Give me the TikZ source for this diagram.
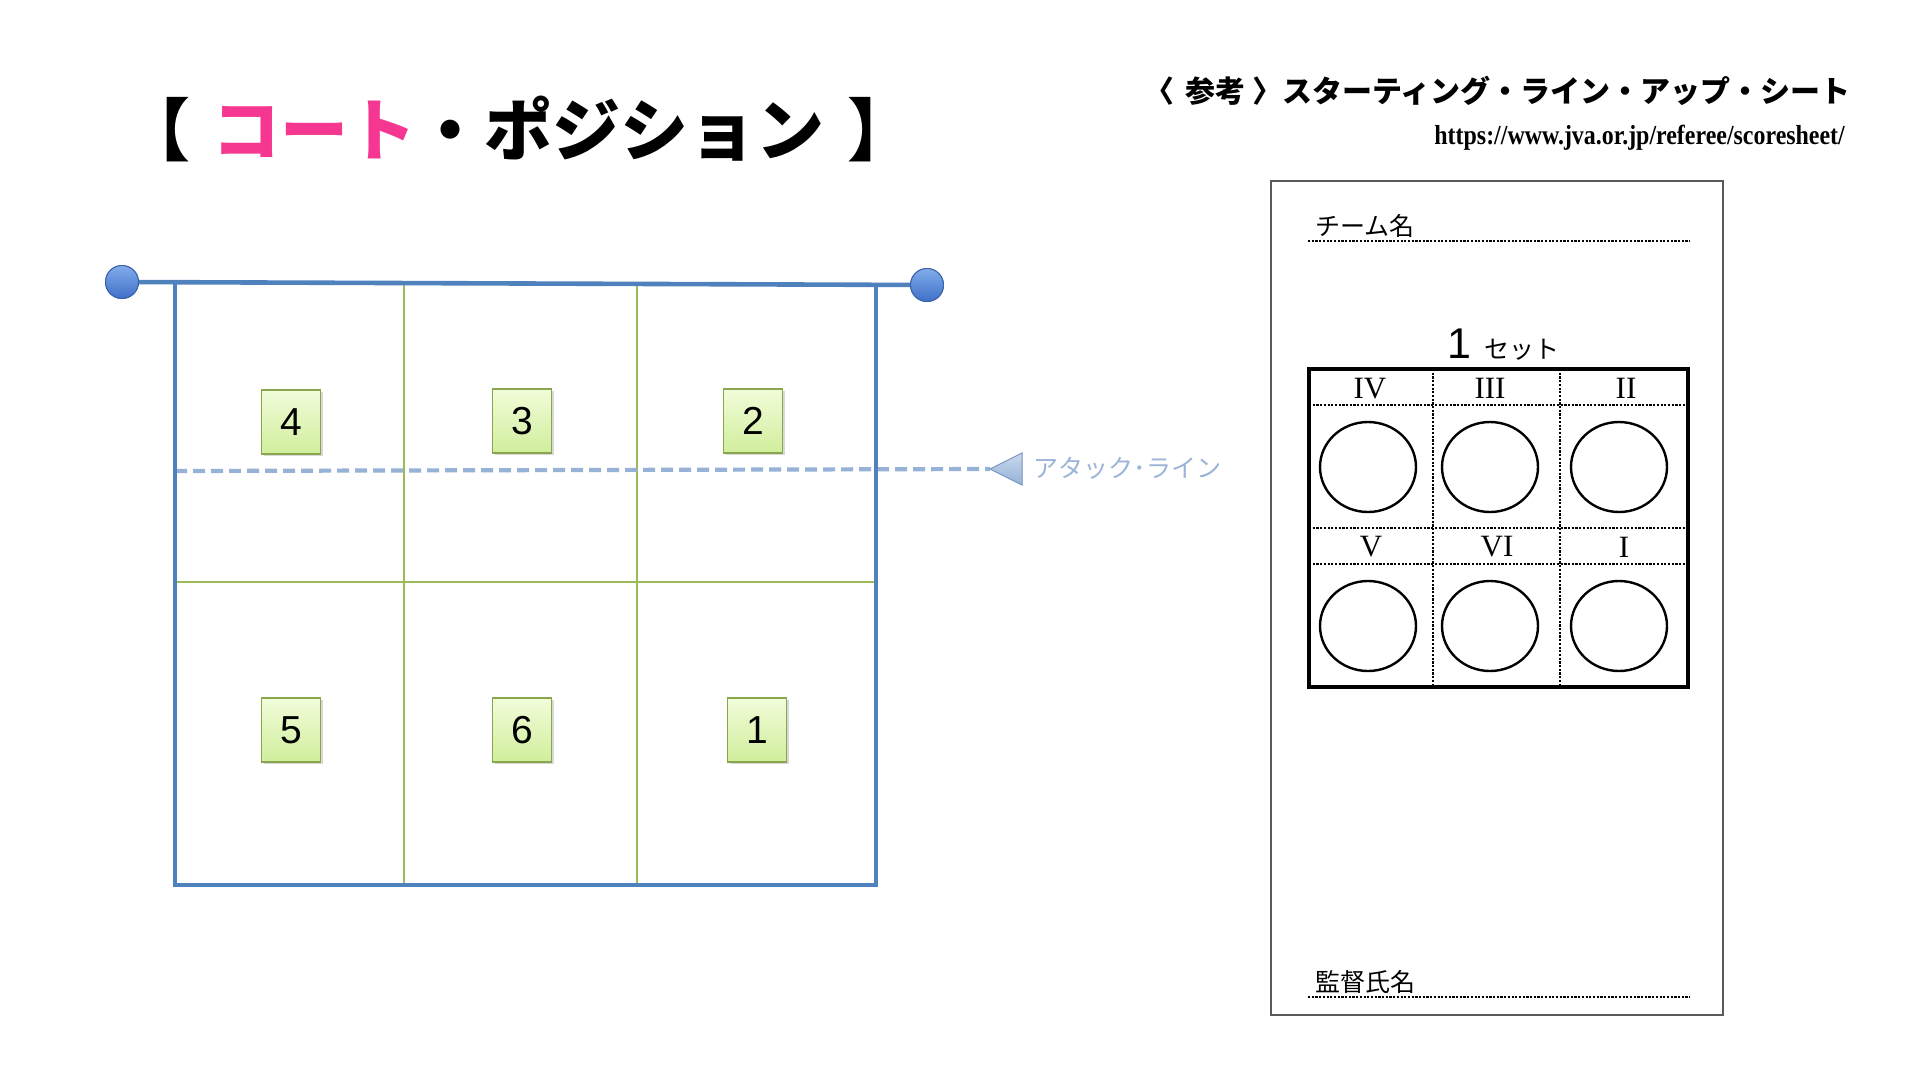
\documentclass[tikz,border=0pt]{standalone}
\usepackage{fontspec}
\usepackage{graphicx}
\newfontfamily\jp{Noto Sans CJK JP}
\newfontfamily\sansf{Liberation Sans}
\newfontfamily\serf{Liberation Serif}
\usetikzlibrary{shadows,shapes.geometric}
\definecolor{courtblue}{RGB}{79,129,189}
\definecolor{gridgreen}{RGB}{155,187,89}
\definecolor{pinkc}{RGB}{245,55,145}
\definecolor{attack}{RGB}{150,178,215}
\definecolor{attacktxt}{RGB}{155,180,215}
\definecolor{attackedge}{RGB}{125,155,200}
\definecolor{boxedge}{RGB}{137,165,78}
\definecolor{boxtop}{RGB}{242,252,218}
\definecolor{boxbot}{RGB}{208,238,155}
\definecolor{balltop}{RGB}{130,172,235}
\definecolor{ballbot}{RGB}{62,112,200}
\definecolor{balledge}{RGB}{60,100,170}
\definecolor{sheetgray}{RGB}{90,90,90}
\tikzset{
  numbox/.style={draw=boxedge, line width=1.5pt, top color=boxtop, bottom color=boxbot,
    minimum width=59pt, minimum height=64pt, inner sep=0pt,
    font=\sansf\fontsize{39}{39}\selectfont,
    drop shadow={shadow xshift=2pt, shadow yshift=-2pt, opacity=0.3}},
  ball/.style={circle, minimum size=33pt, inner sep=0pt, draw=balledge, line width=1pt,
    top color=balltop, bottom color=ballbot},
  courtline/.style={draw=courtblue, line width=4.6pt},
  gridline/.style={draw=gridgreen, line width=2.4pt},
  attackline/.style={draw=attack, line width=4.2pt, dash pattern=on 12pt off 6pt},
  dotline/.style={line width=2.5pt, dash pattern=on 2.2pt off 1.5pt},
  seat/.style={ellipse, draw, line width=2.4pt, minimum width=96pt, minimum height=90pt, inner sep=0pt},
  roman/.style={font=\serf\fontsize{31}{31}\selectfont, inner sep=0pt},
  jptext/.style={font=\jp\fontsize{25}{25}\selectfont, inner sep=0pt}
}
\begin{document}
\begin{tikzpicture}[x=1pt,y=-1pt]
\useasboundingbox[fill=white] (0,0) rectangle (1920,1080);

% title
\node (title) at (519,129) {\jp\bfseries\fontsize{68}{68}\selectfont 【\hspace{6pt} \textcolor{pinkc}{コート}・ポジション\hspace{8pt} 】};

% court coordinates
\coordinate (tl) at (175,284);
\coordinate (tr) at (876,285);
\coordinate (bl) at (175,885);
\coordinate (br) at (876,885);
\coordinate (v1t) at (404,284);
\coordinate (v1b) at (404,885);
\coordinate (v2t) at (637,285);
\coordinate (v2b) at (637,885);
\coordinate (hl) at (175,582);
\coordinate (hr) at (876,582);

% grid
\draw[gridline] (v1t) -- (v1b);
\draw[gridline] (v2t) -- (v2b);
\draw[gridline] (hl) -- (hr);

% attack line
\coordinate (astart) at (175,471);
\coordinate (atip) at (990,469);
\draw[attackline] (astart) -- (atip);
\filldraw[draw=attackedge, line width=1pt, top color=attack!50, bottom color=attack] (atip) -- (1022,453) -- (1022,485) -- cycle;
\node[anchor=west, text=attacktxt, font=\jp\fontsize{25}{25}\selectfont] (alabel) at (1030,468) {アタック･ライン};

% court border
\node[ball] (ballL) at (122,282) {};
\node[ball] (ballR) at (927,285) {};
\draw[courtline, line join=miter] (tl) -- (bl) -- (br) -- (tr);
\draw[courtline] (ballL) -- (ballR);
\node[ball] at (ballL) {};
\node[ball] at (ballR) {};

% number boxes
\node[numbox] (b4) at (291,422) {4};
\node[numbox] (b3) at (522,421) {3};
\node[numbox] (b2) at (753,421) {2};
\node[numbox] (b5) at (291,730) {5};
\node[numbox] (b6) at (522,730) {6};
\node[numbox] (b1) at (757,730) {1};

% heading and url
\node[anchor=east, inner sep=0pt] (head) at (1851,91) {\jp\bfseries\fontsize{30}{30}\selectfont 〈\hspace{4pt} 参考 〉スターティング・ライン・アップ・シート};
\node[anchor=east, inner sep=0pt] (url) at (1845,138) {\scalebox{0.87}[1]{\serf\bfseries\fontsize{27.5}{27.5}\selectfont https://www.jva.or.jp/referee/scoresheet/}};

% sheet
\node[draw=sheetgray, line width=1.2pt, minimum width=452pt, minimum height=834pt, inner sep=0pt] (sheet) at (1497,598) {};
\node[jptext, anchor=west] (team) at (1315,226) {チーム名};
\coordinate (d1a) at (1308,241);
\coordinate (d1b) at (1690,241);
\draw[dotline] (d1a) -- (d1b);

\node[font=\sansf\fontsize{43}{43}\selectfont, inner sep=0pt] (setnum) at (1459,344) {1};
\node[font=\jp\fontsize{25}{25}\selectfont, inner sep=0pt] (setlbl) at (1522,350) {セット};

% table
\coordinate (t1) at (1309,369);
\coordinate (t2) at (1688,687);
\draw[dotline] (1433,369) -- (1433,687);
\draw[dotline] (1560,369) -- (1560,687);
\draw[dotline] (1309,405) -- (1688,405);
\draw[dotline] (1309,528) -- (1688,528);
\draw[dotline] (1309,564) -- (1688,564);
\draw[line width=3.2pt] (t1) rectangle (t2);

\node[roman] (r4) at (1370,389) {IV};
\node[roman] (r3) at (1490,388) {III};
\node[roman] (r2) at (1626,388) {II};
\node[roman] (r5) at (1371,547) {V};
\node[roman] (r6) at (1497,547) {VI};
\node[roman] (r1) at (1624,547) {I};

\node[seat] (s4) at (1368,467) {};
\node[seat] (s3) at (1490,467) {};
\node[seat] (s2) at (1619,467) {};
\node[seat] (s5) at (1368,626) {};
\node[seat] (s6) at (1490,626) {};
\node[seat] (s1) at (1619,626) {};

\node[jptext, anchor=west] (coach) at (1315,982) {監督氏名};
\coordinate (d2a) at (1308,997);
\coordinate (d2b) at (1690,997);
\draw[dotline] (d2a) -- (d2b);
\end{tikzpicture}
\end{document}
